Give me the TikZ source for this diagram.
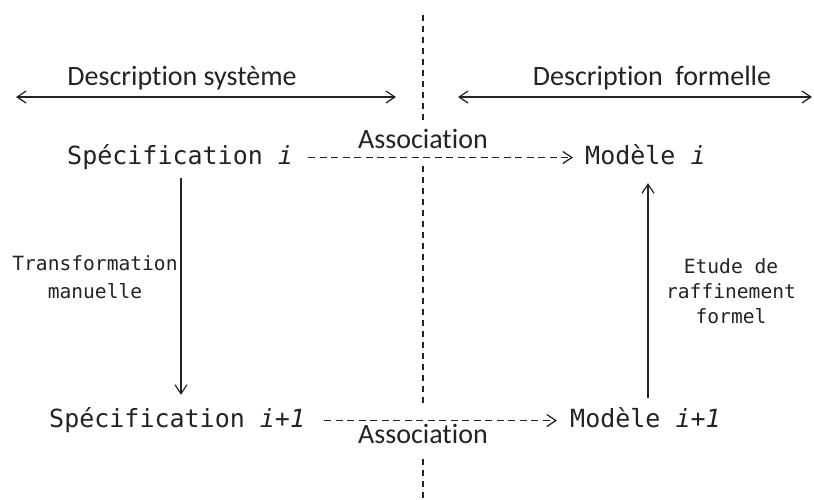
\documentclass[tikz,border=0pt]{standalone}
\usepackage{fontspec}
\usetikzlibrary{arrows.meta}
\newfontfamily\monof{DejaVu Sans Mono}
\newfontfamily\sansf[RawFeature={-liga;-clig;-calt;-dlig}]{Carlito}
\definecolor{inkc}{RGB}{35,35,35}
\begin{document}
\begin{tikzpicture}[x=1pt,y=-1pt,
  >={Straight Barb[length=9pt,width=12pt]},
  ink/.style={draw=inkc, line width=1.2pt},
  big/.style={font=\monof\fontsize{25}{30}\selectfont, text=inkc, inner sep=0pt,
              text height=18pt, text depth=5pt, anchor=base west},
  smalltxt/.style={text=inkc, inner sep=0pt, align=center},
  sanslbl/.style={font=\sansf\fontsize{28}{34}\selectfont, text=inkc, inner sep=0pt, anchor=base},
  assoc/.style={ink, line width=1.3pt, ->, dash pattern=on 7pt off 4.5pt},
  vline/.style={draw=inkc, line width=1.3pt, dash pattern=on 6pt off 5pt}]
\useasboundingbox (0,0) rectangle (814,499);

% vertical separator
\coordinate (v0) at (423,15);
\coordinate (v1) at (423,122);
\coordinate (v2) at (423,166);
\coordinate (v3) at (423,406);
\coordinate (v4) at (423,459);
\coordinate (v5) at (423,499);
\draw[vline] (v0) -- (v1) (v2) -- (v3) (v4) -- (v5);

% headers
\node[sanslbl] (d1) at (182,85) {Description système};
\node[sanslbl] (d2) at (652,85) {Description\hspace{.45em}formelle};
\coordinate (l1) at (16,97);
\coordinate (l2) at (396,97);
\coordinate (r1) at (458,97);
\coordinate (r2) at (812,97);
\draw[ink,<->] (l1) -- (l2);
\draw[ink,<->] (r1) -- (r2);

% main nodes
\node[big] (s1) at (67,164) {Spécification \textit{i}};
\node[big] (m1) at (585,164) {Modèle \textit{i}};
\node[big] (s2) at (49,427) {Spécification \textit{i+1}};
\node[big] (m2) at (570,427) {Modèle \textit{i+1}};

% associations
\draw[assoc, shorten <=15pt, shorten >=12pt] (s1.east) -- (m1.west);
\draw[assoc, shorten <=19pt, shorten >=13pt] (s2.east) -- (m2.west);
\node[sanslbl] (a1) at (423,148) {Association};
\node[sanslbl] (a2) at (423,443) {Association};

% vertical arrows
\coordinate (lx) at (181,0);
\coordinate (rx) at (648,0);
\draw[ink,->, shorten <=9pt, shorten >=14pt] (s1.south -| lx) -- (s2.north -| lx);
\draw[ink,->, shorten <=11pt, shorten >=14pt] (m2.north -| rx) -- (m1.south -| rx);

% side labels
\node[smalltxt, font=\monof\fontsize{19.6}{28}\selectfont] (t1) at (95,277) {Transformation\\manuelle};
\node[smalltxt, font=\monof\fontsize{19.6}{25}\selectfont] (t2) at (731,291) {Etude de\\raffinement\\formel};
\end{tikzpicture}
\end{document}
